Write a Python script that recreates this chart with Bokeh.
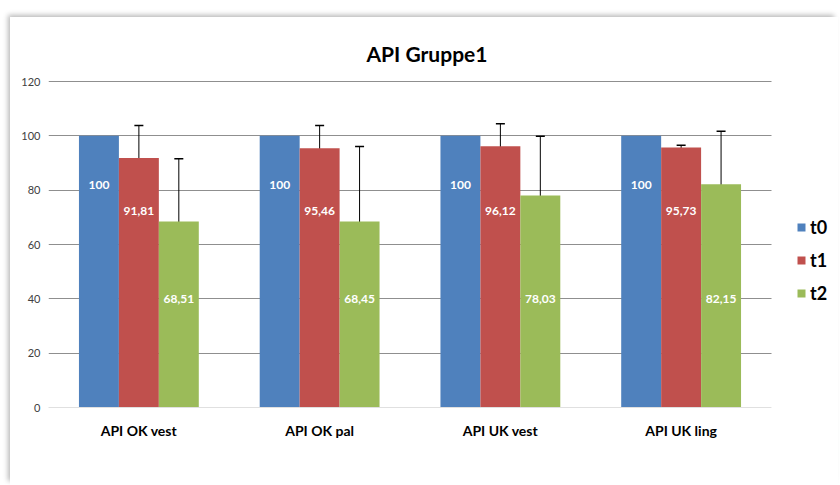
from bokeh.plotting import figure
from bokeh.models import (Range1d, ColumnDataSource, Legend, LegendItem, Label,
                          Whisker, TeeHead, FixedTicker, BoxAnnotation)
from bokeh.core.properties import value
from bokeh.embed import file_html
from bokeh.resources import INLINE

# ---------------- data ----------------
title_text = "API Gruppe1"
categories = ["API OK vest", "API OK pal", "API UK vest", "API UK ling"]
series = ["t0", "t1", "t2"]
t0 = [100, 100, 100, 100]
t1 = [91.81, 95.46, 96.12, 95.73]
t2 = [68.51, 68.45, 78.03, 82.15]
err_t1 = [12.0, 8.3, 8.3, 0.8]
err_t2 = [23.1, 27.6, 21.8, 19.5]
y_ticks = [0, 20, 40, 60, 80, 100, 120]

# ---------------- style / layout ----------------
FONT = "Lato"
colors = ["#4F81BD", "#C0504D", "#9BBB59"]
offsets = [-0.221, 0.0, 0.221]
bar_w = 0.221
label_levels = [82, 72.5, 40]   # vertical placement of the value labels per series

fig_w, fig_h = 828, 468
left_b, bottom_b = 38, 78
frame_w = fig_w - left_b
frame_h = fig_h - bottom_b
px_per_cat = 723 / len(categories)
px_per_y = 326 / y_ticks[-1]
x_end = frame_w / px_per_cat
y_end = frame_h / px_per_y


def fmt(v):
    if float(v).is_integer():
        return str(int(v))
    return f"{v:.2f}".replace(".", ",")


p = figure(x_range=Range1d(0, x_end), y_range=Range1d(0, y_end),
           width=fig_w, height=fig_h, output_backend="svg", toolbar_location=None,
           min_border_left=left_b, min_border_right=0, min_border_top=0,
           min_border_bottom=bottom_b,
           background_fill_color="white", border_fill_color="white")
p.margin = (17, 0, 0, 10)
p.styles = {"box-shadow": "-3px -3px 5px -1px rgba(0,0,0,0.28)"}
p.outline_line_color = None

# grid
p.xgrid.grid_line_color = None
p.ygrid.ticker = FixedTicker(ticks=y_ticks[1:])
p.ygrid.grid_line_color = "#8f8f8f"
p.ygrid.grid_line_width = 1

# axes
p.yaxis.ticker = FixedTicker(ticks=y_ticks)
p.yaxis.axis_line_color = None
p.yaxis.major_tick_line_color = None
p.yaxis.minor_tick_line_color = None
p.yaxis.major_tick_out = 0
p.yaxis.major_label_standoff = 8
p.yaxis.major_label_text_font = FONT
p.yaxis.major_label_text_font_size = "11px"
p.yaxis.major_label_text_color = "#404040"

centers = [i + 0.5 for i in range(len(categories))]
p.xaxis.ticker = FixedTicker(ticks=centers)
p.xaxis.major_label_overrides = {c: name for c, name in zip(centers, categories)}
p.xaxis.bounds = (0, len(categories))
p.xaxis.axis_line_color = "#e0e0e0"
p.xaxis.major_tick_line_color = None
p.xaxis.minor_tick_line_color = None
p.xaxis.major_tick_out = 0
p.xaxis.major_label_standoff = 14
p.xaxis.major_label_text_font = FONT
p.xaxis.major_label_text_font_size = "14px"
p.xaxis.major_label_text_font_style = "bold"
p.xaxis.major_label_text_color = "black"

# blank the plot area to the right of the last category (legend area)
p.add_layout(BoxAnnotation(left=len(categories), fill_color="white", fill_alpha=1,
                           line_color=None))

values = [t0, t1, t2]
errors = [None, err_t1, err_t2]
items = []
for i, s in enumerate(series):
    xs = [c + offsets[i] for c in centers]
    src = ColumnDataSource(dict(
        x=xs,
        val=values[i],
        lab=[fmt(v) for v in values[i]],
        ly=[label_levels[i]] * len(categories),
    ))
    r = p.vbar(x="x", top="val", width=bar_w, source=src,
               fill_color=colors[i], line_color=None)
    items.append(LegendItem(label=s, renderers=[r]))
    if errors[i] is not None:
        up = [v + e for v, e in zip(values[i], errors[i])]
        lo = [v - e for v, e in zip(values[i], errors[i])]
        esrc = ColumnDataSource(dict(x=xs, up=up, lo=lo))
        w = Whisker(base="x", upper="up", lower="lo", source=esrc,
                    line_color="black", line_width=1,
                    upper_head=TeeHead(size=9, line_color="black", line_width=1.5),
                    lower_head=TeeHead(size=9, line_color="black", line_width=1.5))
        p.add_layout(w)
    p.text(x="x", y="ly", text="lab", source=src,
           text_color="white", text_font=value(FONT), text_font_size="12px",
           text_font_style="bold", text_align="center", text_baseline="middle")

legend = Legend(items=items, location=(748, 103.5), orientation="vertical",
                glyph_width=10, glyph_height=10, label_height=20, spacing=11,
                padding=0, margin=0, border_line_color=None, background_fill_alpha=0,
                label_text_font=FONT, label_text_font_size="18px",
                label_text_font_style="bold", label_text_color="black",
                label_standoff=4)
p.add_layout(legend)

title = Label(x=378.5, y=354, x_units="screen", y_units="screen", text=title_text,
              text_align="center", text_baseline="alphabetic", text_font=FONT,
              text_font_size="21px", text_font_style="bold", text_color="black")
p.add_layout(title)

open("out.html", "w").write(file_html(p, INLINE))
